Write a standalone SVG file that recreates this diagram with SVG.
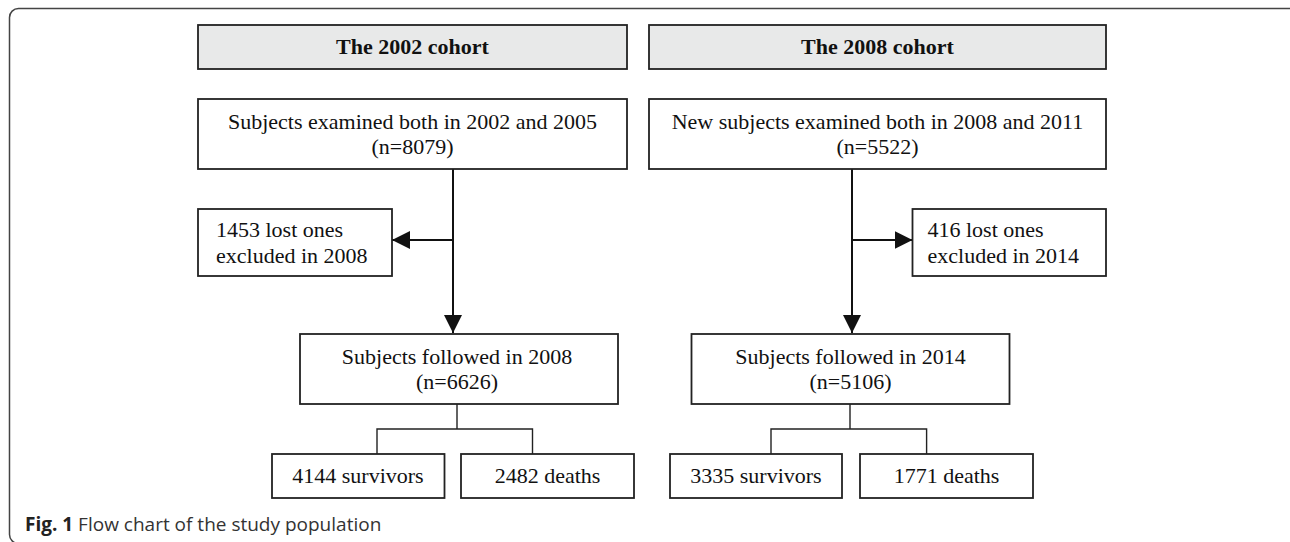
<svg xmlns="http://www.w3.org/2000/svg" width="1290" height="542" viewBox="0 0 1290 542">
<style>
.box{fill:#fff;stroke:#222;stroke-width:1.8}
.hdr{fill:#e8e9e9;stroke:#222;stroke-width:1.8}
.t{font-family:"Liberation Serif","Times New Roman",serif;font-size:22px;fill:#111}
.c{text-anchor:middle}
.b{font-weight:bold}
.ln{fill:none;stroke:#111;stroke-width:2}
.thin{fill:none;stroke:#222;stroke-width:1.4}
.cap{font-family:"Open Sans","Noto Sans",sans-serif;font-size:19px;fill:#333}
</style>
<defs>
<marker id="ah" viewBox="0 0 18 18" refX="18" refY="9" markerWidth="18" markerHeight="18" markerUnits="userSpaceOnUse" orient="auto">
<path d="M0,0 L18,9 L0,18 Z" fill="#111"/>
</marker>
</defs>
<rect x="9.5" y="8.5" width="1288" height="535" rx="9" fill="none" stroke="#444" stroke-width="1.5"/>
<g id="connectors">
<line class="ln" x1="453" y1="169" x2="453" y2="333" marker-end="url(#ah)"/>
<line class="ln" x1="453" y1="240" x2="392" y2="240" marker-end="url(#ah)"/>
<line class="ln" x1="852" y1="169" x2="852" y2="333" marker-end="url(#ah)"/>
<line class="ln" x1="852" y1="240" x2="912.5" y2="240" marker-end="url(#ah)"/>
<path class="thin" d="M457,404 V429 M377,429 H532.5 M377,428.3 V454 M532.5,428.3 V454"/>
<path class="thin" d="M850,404 V429 M771,429 H926.6 M771,428.3 V454 M926.6,428.3 V454"/>
</g>
<g id="hdr2002">
<rect class="hdr" x="198" y="25" width="429" height="44"/>
<text class="t c b" x="412.5" y="54">The 2002 cohort</text>
</g>
<g id="hdr2008">
<rect class="hdr" x="649" y="25" width="457" height="44"/>
<text class="t c b" x="877.5" y="54">The 2008 cohort</text>
</g>
<g id="n2002">
<rect class="box" x="198" y="99" width="429" height="70"/>
<text class="t c" x="412.5" y="129">Subjects examined both in 2002 and 2005</text>
<text class="t c" x="412.5" y="153.5">(n=8079)</text>
</g>
<g id="n2008">
<rect class="box" x="649" y="99" width="457" height="70"/>
<text class="t c" x="877.5" y="129">New subjects examined both in 2008 and 2011</text>
<text class="t c" x="877.5" y="153.5">(n=5522)</text>
</g>
<g id="lost2002">
<rect class="box" x="198" y="209" width="194" height="67"/>
<text class="t" x="216" y="237">1453 lost ones</text>
<text class="t" x="216" y="263">excluded in 2008</text>
</g>
<g id="lost2008">
<rect class="box" x="912.5" y="209" width="193.5" height="67"/>
<text class="t" x="927.5" y="237">416 lost ones</text>
<text class="t" x="927.5" y="263">excluded in 2014</text>
</g>
<g id="f2008">
<rect class="box" x="300" y="334" width="318" height="70"/>
<text class="t c" x="457" y="364">Subjects followed in 2008</text>
<text class="t c" x="457" y="388.5">(n=6626)</text>
</g>
<g id="f2014">
<rect class="box" x="691.5" y="334" width="318" height="70"/>
<text class="t c" x="850.5" y="364">Subjects followed in 2014</text>
<text class="t c" x="850.5" y="388.5">(n=5106)</text>
</g>
<g id="s2002">
<rect class="box" x="272" y="454" width="172.5" height="44"/>
<text class="t c" x="358" y="483">4144 survivors</text>
</g>
<g id="d2002">
<rect class="box" x="461" y="454" width="173" height="44"/>
<text class="t c" x="547.5" y="483">2482 deaths</text>
</g>
<g id="s2008">
<rect class="box" x="670" y="454" width="172" height="44"/>
<text class="t c" x="756" y="483">3335 survivors</text>
</g>
<g id="d2008">
<rect class="box" x="860" y="454" width="173" height="44"/>
<text class="t c" x="946.5" y="483">1771 deaths</text>
</g>
<text class="cap" x="25" y="531"><tspan font-weight="bold" fill="#222">Fig. 1</tspan> Flow chart of the study population</text>
</svg>
